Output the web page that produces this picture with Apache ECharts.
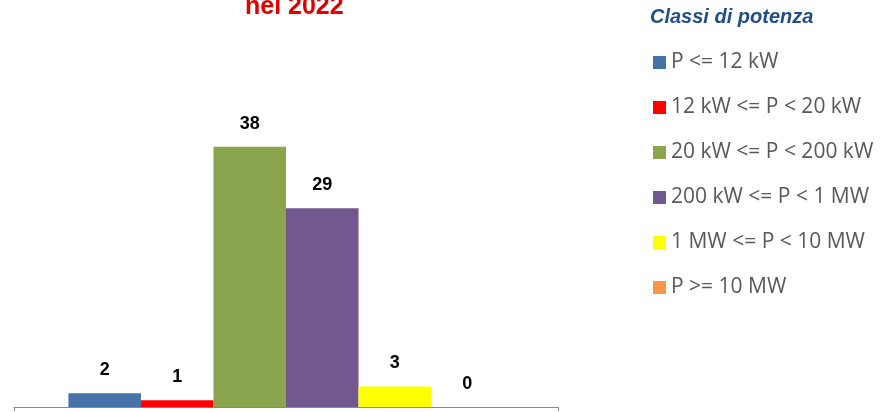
<!DOCTYPE html>
<html>
<head>
<meta charset="utf-8">
<script src="https://cdn.jsdelivr.net/npm/echarts@6/dist/echarts.min.js"></script>
<style>
  html, body { margin: 0; padding: 0; background: #fff; }
  #chart { width: 883px; height: 412px; }
</style>
</head>
<body>
<div id="chart"></div>
<script>
// classi di potenza (una serie per classe)
var classi = ['P <= 12 kW', '12 kW <= P < 20 kW', '20 kW <= P < 200 kW', '200 kW <= P < 1 MW', '1 MW <= P < 10 MW', 'P >= 10 MW'];
var valori = [2, 1, 38, 29, 3, 0];
var colori = ['#4572A7', '#FF0000', '#8AA54E', '#71588F', '#FFFF00', '#F79646'];
var categorie = [''];

var chart = echarts.init(document.getElementById('chart'));

var series = classi.map(function (nome, i) {
  return {
    name: nome,
    type: 'bar',
    barGap: '0%',
    barCategoryGap: '20%',
    itemStyle: { color: colori[i] },
    label: {
      show: true,
      position: 'top',
      distance: 14,
      color: '#000',
      fontWeight: 'bold',
      fontSize: 18,
      fontFamily: 'Liberation Sans'
    },
    data: [valori[i]]
  };
});

var option = {
  animation: false,
  title: [
    {
      text: 'nel 2022',
      left: 245,
      top: -5,
      padding: 0,
      textStyle: { color: '#E00000', fontWeight: 'bold', fontSize: 25, fontFamily: 'Liberation Sans' }
    },
    {
      text: 'Classi di potenza',
      left: 650,
      top: 7,
      padding: 0,
      textStyle: { color: '#1F4E89', fontWeight: 'bold', fontStyle: 'italic', fontSize: 20, fontFamily: 'Liberation Sans' }
    }
  ],
  legend: {
    orient: 'vertical',
    left: 653,
    top: 52,
    padding: 0,
    itemWidth: 13,
    itemHeight: 13,
    itemGap: 24,
    icon: 'rect',
    textStyle: { color: '#595959', fontSize: 21, fontFamily: 'Open Sans', lineHeight: 21 },
    data: classi
  },
  grid: { left: 14, right: 325, top: 133, bottom: 5, containLabel: false },
  xAxis: {
    type: 'category',
    data: categorie,
    axisLine: { lineStyle: { color: '#898989', width: 1 } },
    axisTick: { show: true, length: 4, lineStyle: { color: '#898989' } },
    axisLabel: { show: false }
  },
  yAxis: {
    type: 'value',
    min: 0,
    max: 40,
    show: false
  },
  series: series
};

chart.setOption(option);
</script>
</body>
</html>
